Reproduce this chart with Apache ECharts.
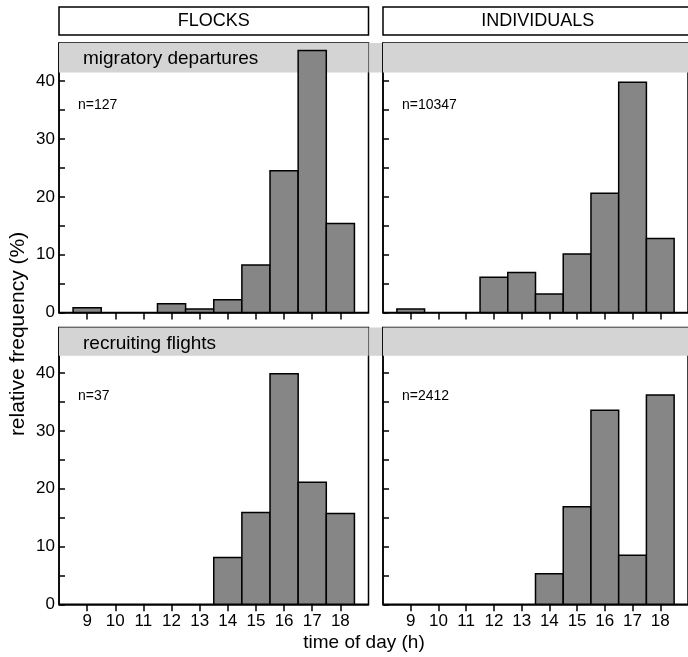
<!DOCTYPE html>
<html>
<head>
<meta charset="utf-8">
<script src="https://cdn.jsdelivr.net/npm/echarts@6/dist/echarts.min.js"></script>
<style>
  html, body { margin: 0; padding: 0; background: #fff; }
  #main { width: 688px; height: 657px; }
</style>
</head>
<body>
<div id="main"></div>
<script>
// time of day (h), one bar per hour
const hours = [9, 10, 11, 12, 13, 14, 15, 16, 17, 18]
// relative frequency (%)
const flocksDepartures = [0.8, 0, 0, 1.5, 0.6, 2.2, 8.2, 24.5, 45.3, 15.4]
const individualsDepartures = [0.6, 0, 0, 6.1, 6.9, 3.2, 10.1, 20.6, 39.8, 12.8]
const flocksRecruiting = [0, 0, 0, 0, 0, 8.1, 15.9, 39.9, 21.1, 15.7]
const individualsRecruiting = [0, 0, 0, 0, 0, 5.3, 16.9, 33.6, 8.5, 36.2]
const yLabelValues = [0, 10, 20, 30, 40]
const yTickValues = [0, 5, 10, 15, 20, 25, 30, 35, 40]
const columnTitles = ['FLOCKS', 'INDIVIDUALS']
const rowTitles = ['migratory departures', 'recruiting flights']
const sampleSizes = ['n=127', 'n=10347', 'n=37', 'n=2412']

const FONT = '"Liberation Sans", Arial, Helvetica, sans-serif'
const colLeft = [59, 383]
const colWidth = 309.5
const rowTop = [43, 327.5]
const rowHeight = [269.5, 276.8]
const rowMax = [46.6, 47.9]
const bandFrom = [41.5, 43]
const bandColor = '#d4d4d4'

const panels = [
  { row: 0, col: 0, data: flocksDepartures },
  { row: 0, col: 1, data: individualsDepartures },
  { row: 1, col: 0, data: flocksRecruiting },
  { row: 1, col: 1, data: individualsRecruiting }
]

const chart = echarts.init(document.getElementById('main'))

function renderBar (params, api) {
  const x = api.value(0)
  const y = api.value(1)
  if (!y) return
  const p0 = api.coord([x - 0.5, y])
  const p1 = api.coord([x + 0.5, 0])
  return {
    type: 'rect',
    shape: { x: p0[0], y: p0[1], width: p1[0] - p0[0], height: p1[1] - p0[1] },
    style: { fill: '#868686', stroke: '#000', lineWidth: 1.5 }
  }
}

const grid = []
const xAxis = []
const yAxis = []
const series = []
panels.forEach((p, i) => {
  grid.push({
    left: colLeft[p.col],
    top: rowTop[p.row],
    width: colWidth,
    height: rowHeight[p.row],
    show: true,
    borderColor: '#000',
    borderWidth: 1.5,
    backgroundColor: 'transparent'
  })
  xAxis.push({
    type: 'value',
    gridIndex: i,
    min: 8,
    max: 19,
    axisLine: { show: true, onZero: false, lineStyle: { color: '#000', width: 1.5 } },
    axisTick: { show: true, inside: false, length: 7, customValues: hours, lineStyle: { color: '#000', width: 1.5 } },
    axisLabel: {
      show: p.row === 1,
      customValues: hours,
      margin: 9,
      color: '#000',
      fontSize: 17,
      fontFamily: FONT
    },
    splitLine: { show: false }
  })
  yAxis.push({
    type: 'value',
    gridIndex: i,
    min: 0,
    max: rowMax[p.row],
    axisLine: { show: true, lineStyle: { color: '#000', width: 1.5 } },
    axisTick: { show: true, inside: true, length: 6, customValues: yTickValues, lineStyle: { color: '#000', width: 1.5 } },
    axisLabel: {
      show: p.col === 0,
      customValues: yLabelValues,
      margin: 4,
      color: '#000',
      fontSize: 17,
      fontFamily: FONT
    },
    splitLine: { show: false }
  })
  // shaded band at the top of each panel
  series.push({
    type: 'line',
    xAxisIndex: i,
    yAxisIndex: i,
    data: [],
    z: 1,
    silent: true,
    markArea: {
      silent: true,
      itemStyle: { color: bandColor },
      data: [[{ yAxis: bandFrom[p.row] }, { yAxis: rowMax[p.row] }]]
    }
  })
  series.push({
    type: 'custom',
    xAxisIndex: i,
    yAxisIndex: i,
    z: 3,
    renderItem: renderBar,
    data: hours.map((h, k) => [h, p.data[k]])
  })
})

chart.setOption({
  animation: false,
  backgroundColor: '#fff',
  grid: grid,
  xAxis: xAxis,
  yAxis: yAxis,
  series: series
})

// decorations: headers, row titles, sample sizes, axis names, band between panels
const graphic = []
columnTitles.forEach((t, c) => {
  graphic.push({
    type: 'rect',
    shape: { x: colLeft[c], y: 7, width: colWidth, height: 28 },
    style: { fill: '#fff', stroke: '#000', lineWidth: 1.5 }
  })
  graphic.push({
    type: 'text',
    x: colLeft[c] + colWidth / 2,
    y: 21.5,
    style: { text: t, fill: '#000', font: '18px ' + FONT, textAlign: 'center', textVerticalAlign: 'middle' }
  })
})
rowTitles.forEach((t, r) => {
  const gi = r * 2
  const a = chart.convertToPixel({ xAxisIndex: gi, yAxisIndex: gi }, [19, rowMax[r]])
  const b = chart.convertToPixel({ xAxisIndex: gi + 1, yAxisIndex: gi + 1 }, [8, bandFrom[r]])
  graphic.push({
    type: 'rect',
    z: 2,
    shape: { x: a[0] + 1, y: a[1], width: b[0] - a[0] - 2, height: b[1] - a[1] },
    style: { fill: bandColor }
  })
  graphic.push({
    type: 'text',
    x: colLeft[0] + 24,
    y: rowTop[r] + 16,
    z: 10,
    style: { text: t, fill: '#000', font: '19px ' + FONT, textVerticalAlign: 'middle' }
  })
})
panels.forEach((p, i) => {
  graphic.push({
    type: 'text',
    x: colLeft[p.col] + 19,
    y: rowTop[p.row] + (p.row === 0 ? 62 : 69),
    z: 10,
    style: { text: sampleSizes[i], fill: '#000', font: '14px ' + FONT, textVerticalAlign: 'middle' }
  })
})
graphic.push({
  type: 'text',
  x: 18,
  y: 334,
  rotation: Math.PI / 2,
  style: { text: 'relative frequency (%)', fill: '#000', font: '21px ' + FONT, textAlign: 'center', textVerticalAlign: 'middle' }
})
graphic.push({
  type: 'text',
  x: 364,
  y: 643,
  style: { text: 'time of day (h)', fill: '#000', font: '19px ' + FONT, textAlign: 'center', textVerticalAlign: 'middle' }
})

chart.setOption({ graphic: graphic })
</script>
</body>
</html>
